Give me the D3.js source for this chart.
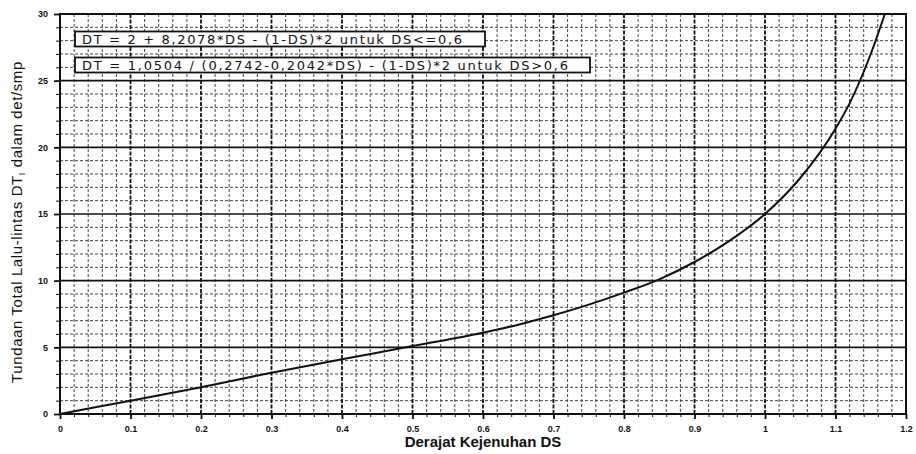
<!DOCTYPE html>
<html>
<head>
<meta charset="utf-8"/>
<title>Tundaan Total vs Derajat Kejenuhan</title>
<style>
  * { margin: 0; padding: 0; }
  body { background: #fff; }
  svg { display: block; font-family: "Liberation Sans", Arial, sans-serif; }
  .tick text { font-size: 9px; font-weight: bold; fill: #111; }
  .axis-title { font-size: 14px; font-weight: bold; fill: #111; }
  .formula { font-family: "DejaVu Sans", sans-serif; font-size: 13px; fill: #111; }
</style>
<script src="https://d3js.org/d3.v7.min.js"></script>
</head>
<body>
<svg id="chart" width="916" height="454"></svg>
<script>
// values
const ds = [0, 0.1, 0.2, 0.3, 0.4, 0.5, 0.6, 0.65, 0.7, 0.75, 0.8, 0.85, 0.9, 0.95, 1.0, 1.05, 1.1, 1.12, 1.15, 1.17];
const dt = [0, 1.0, 2.0, 3.1, 4.1, 5.1, 6.1, 6.7, 7.4, 8.2, 9.1, 10.1, 11.4, 13.0, 15.0, 17.7, 21.4, 23.3, 27.0, 30.0];

const xTicks = [0, 0.1, 0.2, 0.3, 0.4, 0.5, 0.6, 0.7, 0.8, 0.9, 1, 1.1, 1.2];
const yTicks = [0, 5, 10, 15, 20, 25, 30];
const formulas = [
  "DT = 2 + 8,2078*DS - (1-DS)*2  untuk DS<=0,6",
  "DT = 1,0504 / (0,2742-0,2042*DS) - (1-DS)*2  untuk DS>0,6"
];

const pLeft = 60, pRight = 906, pTop = 14, pBottom = 414;

const svg = d3.select("#chart");

const x = d3.scaleLinear().domain([0, 1.2]).range([pLeft, pRight]);
const y = d3.scaleLinear().domain([0, 30]).range([pBottom, pTop]);

// minor grid
const xMinor = d3.range(0, 121, 2).map(d => d / 100);
const yMinor = d3.range(0, 31, 1);

const grid = svg.append("g");

grid.selectAll("line.vminor")
  .data(xMinor.filter((d, i) => i % 5 !== 0))
  .enter().append("line")
  .attr("x1", d => x(d)).attr("x2", d => x(d))
  .attr("y1", pTop).attr("y2", pBottom)
  .attr("stroke", "#444").attr("stroke-width", 1)
  .attr("stroke-dasharray", "3,2");

grid.selectAll("line.hminor")
  .data(yMinor.filter(d => d % 5 !== 0))
  .enter().append("line")
  .attr("x1", pLeft).attr("x2", pRight)
  .attr("y1", d => y(d)).attr("y2", d => y(d))
  .attr("stroke", "#444").attr("stroke-width", 1)
  .attr("stroke-dasharray", "3,2");

// major grid
grid.selectAll("line.vmajor")
  .data(xTicks)
  .enter().append("line")
  .attr("x1", d => x(d)).attr("x2", d => x(d))
  .attr("y1", pTop).attr("y2", pBottom)
  .attr("stroke", "#111").attr("stroke-width", 1.8)
  .attr("stroke-dasharray", "4,1.5");

grid.selectAll("line.hmajor")
  .data(yTicks)
  .enter().append("line")
  .attr("x1", pLeft).attr("x2", pRight)
  .attr("y1", d => y(d)).attr("y2", d => y(d))
  .attr("stroke", "#111").attr("stroke-width", 1.6);

// frame
svg.append("rect")
  .attr("x", pLeft).attr("y", pTop)
  .attr("width", pRight - pLeft).attr("height", pBottom - pTop)
  .attr("fill", "none").attr("stroke", "#111").attr("stroke-width", 2);

// axes (ticks + labels)
const xAxis = svg.append("g")
  .attr("transform", `translate(0,${pBottom})`)
  .call(d3.axisBottom(x).tickValues(xTicks).tickSize(5).tickPadding(7)
    .tickFormat(d => d === 0 || d === 1 ? String(d) : d3.format(".1f")(d)));
xAxis.select(".domain").remove();
xAxis.selectAll("line").attr("stroke", "#111").attr("stroke-width", 1.8);

svg.append("g")
  .attr("transform", `translate(0,${pBottom})`)
  .call(d3.axisBottom(x).tickValues(xMinor).tickSize(3).tickFormat(""))
  .call(g => g.select(".domain").remove())
  .selectAll("line").attr("stroke", "#111");

const yAxis = svg.append("g")
  .attr("transform", `translate(${pLeft},0)`)
  .call(d3.axisLeft(y).tickValues(yTicks).tickSize(6).tickPadding(6));
yAxis.select(".domain").remove();
yAxis.selectAll("line").attr("stroke", "#111").attr("stroke-width", 1.8);

svg.append("g")
  .attr("transform", `translate(${pLeft},0)`)
  .call(d3.axisLeft(y).tickValues(yMinor).tickSize(4).tickFormat(""))
  .call(g => g.select(".domain").remove())
  .selectAll("line").attr("stroke", "#111");

// curve
const line = d3.line()
  .curve(d3.curveMonotoneX)
  .x((d, i) => x(ds[i]))
  .y(d => y(d));

svg.append("path")
  .attr("d", line(dt))
  .attr("fill", "none")
  .attr("stroke", "#111")
  .attr("stroke-width", 2);

// formula boxes
const boxes = svg.append("g");
const boxSpec = [
  { cy: 39, textW: 380, boxW: 410 },
  { cy: 65, textW: 486, boxW: 515 }
];
formulas.forEach((f, i) => {
  const b = boxSpec[i];
  boxes.append("rect")
    .attr("x", 75).attr("y", b.cy - 7.5)
    .attr("width", b.boxW).attr("height", 15)
    .attr("fill", "#fff").attr("stroke", "#111").attr("stroke-width", 1.8);
  boxes.append("text")
    .attr("class", "formula")
    .attr("x", 82).attr("y", b.cy + 5)
    .attr("textLength", b.textW)
    .attr("lengthAdjust", "spacing")
    .text(f);
});

// axis titles
svg.append("text")
  .attr("class", "axis-title")
  .attr("x", (pLeft + pRight) / 2).attr("y", 447)
  .attr("text-anchor", "middle")
  .style("font-size", "15px")
  .text("Derajat Kejenuhan DS");

const yt = svg.append("text")
  .attr("class", "axis-title")
  .attr("transform", "translate(22,222) rotate(-90)")
  .attr("text-anchor", "middle")
  .style("font-size", "15px")
  .style("letter-spacing", "0.6px")
  .style("font-weight", "normal");
yt.append("tspan").text("Tundaan Total Lalu-lintas DT");
yt.append("tspan").attr("dy", 3).style("font-size", "9px").text("I");
yt.append("tspan").attr("dy", -3).text(" dalam det/smp");
</script>
</body>
</html>
